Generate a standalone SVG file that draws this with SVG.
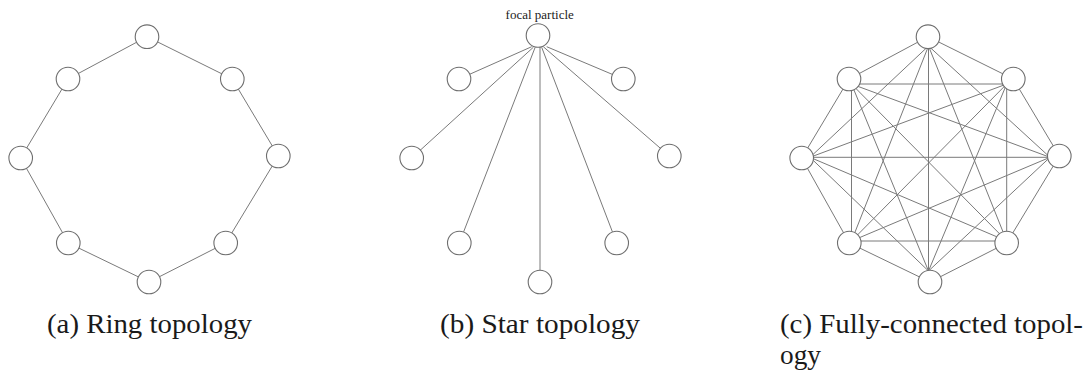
<svg xmlns="http://www.w3.org/2000/svg" width="1086" height="374" viewBox="0 0 1086 374">
<style>
.e{stroke:#7a7a7a;stroke-width:1;fill:none}
.n{fill:#fff;stroke:#6e6e6e;stroke-width:1.1}
.cap{font-size:27px;fill:#1a1a1a}
.lbl{font-size:13px;fill:#222;text-anchor:middle}
</style>
<rect width="1086" height="374" fill="#fff"/>

<!-- (a) Ring -->
<g id="ring">
<g id="ring-edges" class="e">
<line x1="147" y1="36.7" x2="68" y2="79"/>
<line x1="147" y1="36.7" x2="232.3" y2="79"/>
<line x1="68" y1="79" x2="20.7" y2="158"/>
<line x1="232.3" y1="79" x2="278.3" y2="156"/>
<line x1="20.7" y1="158" x2="68.3" y2="243"/>
<line x1="278.3" y1="156" x2="225.7" y2="243"/>
<line x1="68.3" y1="243" x2="149" y2="282"/>
<line x1="225.7" y1="243" x2="149" y2="282"/>
</g>
<g id="ring-n1"><circle class="n" cx="147" cy="36.7" r="11.8"/></g>
<g id="ring-n2"><circle class="n" cx="232.3" cy="79" r="11.8"/></g>
<g id="ring-n3"><circle class="n" cx="278.3" cy="156" r="11.8"/></g>
<g id="ring-n4"><circle class="n" cx="225.7" cy="243" r="11.8"/></g>
<g id="ring-n5"><circle class="n" cx="149" cy="282" r="11.8"/></g>
<g id="ring-n6"><circle class="n" cx="68.3" cy="243" r="11.8"/></g>
<g id="ring-n7"><circle class="n" cx="20.7" cy="158" r="11.8"/></g>
<g id="ring-n8"><circle class="n" cx="68" cy="79" r="11.8"/></g>
</g>

<!-- (b) Star -->
<g id="star">
<g id="star-edges" class="e">
<line x1="531.7" y1="46.7" x2="459" y2="79"/>
<line x1="533.3" y1="47.3" x2="411.7" y2="158"/>
<line x1="535" y1="47.7" x2="459.3" y2="243"/>
<line x1="540" y1="47" x2="540" y2="282"/>
<line x1="541.7" y1="47.3" x2="616.7" y2="243"/>
<line x1="543.3" y1="46.7" x2="669.3" y2="156"/>
<line x1="546.7" y1="46.7" x2="623.3" y2="79"/>
</g>
<g id="star-focal"><circle class="n" cx="538" cy="35.5" r="11.8"/><text class="lbl" x="539.7" y="19" font-family="Liberation Serif, Times New Roman, serif">focal particle</text></g>
<g id="star-n2"><circle class="n" cx="623.3" cy="79" r="11.8"/></g>
<g id="star-n3"><circle class="n" cx="669.3" cy="156" r="11.8"/></g>
<g id="star-n4"><circle class="n" cx="616.7" cy="243" r="11.8"/></g>
<g id="star-n5"><circle class="n" cx="540" cy="282" r="11.8"/></g>
<g id="star-n6"><circle class="n" cx="459.3" cy="243" r="11.8"/></g>
<g id="star-n7"><circle class="n" cx="411.7" cy="158" r="11.8"/></g>
<g id="star-n8"><circle class="n" cx="459" cy="79" r="11.8"/></g>
</g>

<!-- (c) Fully connected -->
<g id="full">
<g id="full-edges" class="e">
<line x1="928" y1="36.7" x2="849" y2="79"/>
<line x1="928" y1="36.7" x2="1013.3" y2="79"/>
<line x1="849" y1="79" x2="801.7" y2="158"/>
<line x1="1013.3" y1="79" x2="1059.3" y2="156"/>
<line x1="801.7" y1="158" x2="849.3" y2="243"/>
<line x1="1059.3" y1="156" x2="1006.7" y2="243"/>
<line x1="849.3" y1="243" x2="930" y2="282"/>
<line x1="1006.7" y1="243" x2="930" y2="282"/>
<line x1="928.5" y1="46" x2="1050" y2="157.3"/>
<line x1="928.5" y1="46" x2="1006.7" y2="241"/>
<line x1="928.5" y1="46" x2="928.5" y2="271"/>
<line x1="928.5" y1="46" x2="851.5" y2="241"/>
<line x1="928.5" y1="46" x2="810" y2="157.3"/>
<line x1="1006.7" y1="84" x2="1006.7" y2="241"/>
<line x1="1006.7" y1="84" x2="928.5" y2="271"/>
<line x1="1006.7" y1="84" x2="851.5" y2="241"/>
<line x1="1006.7" y1="84" x2="810" y2="157.3"/>
<line x1="1006.7" y1="84" x2="851.5" y2="84"/>
<line x1="1050" y1="157.3" x2="928.5" y2="271"/>
<line x1="1050" y1="157.3" x2="851.5" y2="241"/>
<line x1="1050" y1="157.3" x2="810" y2="157.3"/>
<line x1="1050" y1="157.3" x2="851.5" y2="84"/>
<line x1="1006.7" y1="241" x2="851.5" y2="241"/>
<line x1="1006.7" y1="241" x2="810" y2="157.3"/>
<line x1="1006.7" y1="241" x2="851.5" y2="84"/>
<line x1="928.5" y1="271" x2="810" y2="157.3"/>
<line x1="928.5" y1="271" x2="851.5" y2="84"/>
<line x1="851.5" y1="241" x2="851.5" y2="84"/>
</g>
<g id="full-n1"><circle class="n" cx="928" cy="36.7" r="11.8"/></g>
<g id="full-n2"><circle class="n" cx="1013.3" cy="79" r="11.8"/></g>
<g id="full-n3"><circle class="n" cx="1059.3" cy="156" r="11.8"/></g>
<g id="full-n4"><circle class="n" cx="1006.7" cy="243" r="11.8"/></g>
<g id="full-n5"><circle class="n" cx="930" cy="282" r="11.8"/></g>
<g id="full-n6"><circle class="n" cx="849.3" cy="243" r="11.8"/></g>
<g id="full-n7"><circle class="n" cx="801.7" cy="158" r="11.8"/></g>
<g id="full-n8"><circle class="n" cx="849" cy="79" r="11.8"/></g>
</g>

<!-- captions -->
<g id="captions" font-family="Liberation Serif, Times New Roman, serif">
<text class="cap" x="47" y="333" textLength="205" lengthAdjust="spacingAndGlyphs">(a) Ring topology</text>
<text class="cap" x="440" y="333" textLength="200" lengthAdjust="spacingAndGlyphs">(b) Star topology</text>
<text class="cap" x="780" y="333" textLength="303" lengthAdjust="spacingAndGlyphs">(c) Fully-connected topol-</text>
<text class="cap" x="780" y="364" textLength="41" lengthAdjust="spacingAndGlyphs">ogy</text>
</g>
</svg>
